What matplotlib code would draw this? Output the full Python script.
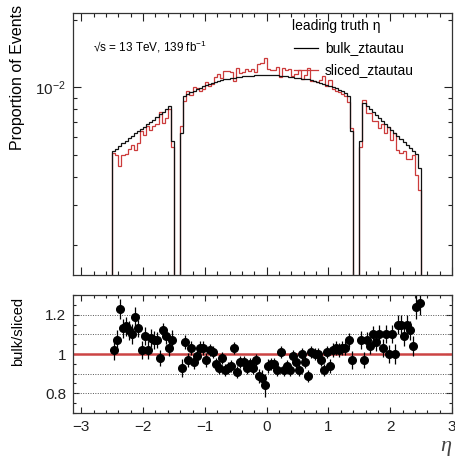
import numpy as np
import matplotlib
matplotlib.use('Agg')
import matplotlib.pyplot as plt
from matplotlib.ticker import (MultipleLocator, LogLocator, NullFormatter,
                               FixedLocator, FuncFormatter)

plt.rcParams['font.family'] = ['Liberation Sans', 'DejaVu Sans']
plt.rcParams['mathtext.default'] = 'regular'

# binning: 0.05 wide bins from -2.5 to 2.5, crack bins empty
bin_lo, bin_hi, bin_w = -2.5, 2.5, 0.05

# bulk_ztautau proportion (x 1e-3), three eta regions
bulk_left = [5.2, 5.35, 5.5, 5.65, 5.8, 5.95, 6.1, 6.25, 6.4, 6.55,
             6.7, 6.85, 7.0, 7.2, 7.4, 7.6, 7.8, 8.0, 8.3, 5.8]
bulk_center = [6.3,
               9.2, 9.35, 9.5, 9.65, 9.8, 9.95, 10.1, 10.25, 10.4, 10.5,
               10.6, 10.7, 10.8, 10.9, 10.95, 11.0, 11.05, 11.1, 11.15, 11.2,
               11.22, 11.25, 11.28, 11.3, 11.32, 11.35, 11.35,
               11.35, 11.35, 11.32, 11.3, 11.28, 11.25, 11.2, 11.15, 11.1, 11.05,
               11.0, 10.95, 10.9, 10.85, 10.75, 10.65, 10.55, 10.45, 10.35, 10.25,
               10.1, 10.0, 9.9, 9.75, 9.6, 9.45, 9.2,
               6.4]
bulk_right = [5.8, 8.49, 8.26, 8.0, 7.77, 7.53, 7.30, 7.08, 6.87, 6.66,
              6.46, 6.27, 6.08, 5.89, 5.71, 5.54, 5.38, 5.21, 5.05, 4.4]

# ratio bulk/sliced and its errors
ratio_left = [1.02, 1.07, 1.23, 1.13, 1.14, 1.12, 1.10, 1.19, 1.13, 1.02,
              1.09, 1.02, 1.08, 1.07, 1.07, 0.98, 1.12, 1.09, 1.03, 1.07]
ratio_center = [0.93, 1.06, 0.97, 1.03, 0.96, 0.99, 1.03, 1.03,
                0.97, 1.02, 1.01, 0.95, 0.93, 0.98, 0.92, 0.93, 0.94, 1.03,
                0.91, 0.96, 0.96, 0.93, 0.95, 0.93, 0.97, 0.89, 0.88, 0.84,
                0.94, 0.95, 0.95, 0.92, 1.01, 0.92, 0.94, 0.92, 0.99, 0.96,
                0.92, 1.00, 0.96, 0.89, 1.01, 1.00, 1.00, 0.97, 0.92, 1.01,
                0.94, 1.02, 1.03, 1.02, 1.03, 1.03, 1.07, 0.97]
ratio_right = [1.07, 0.97, 1.07, 1.04, 1.10, 1.06, 1.10, 1.03, 1.10, 1.00,
               1.10, 1.00, 1.15, 1.15, 1.09, 1.15, 1.12, 1.04, 1.24, 1.26]

err_left = [0.05, 0.05, 0.05, 0.05, 0.05, 0.05, 0.05, 0.05, 0.045, 0.045,
            0.045, 0.045, 0.045, 0.045, 0.04, 0.04, 0.04, 0.04, 0.04, 0.05]
err_center = [0.045, 0.035, 0.035, 0.035, 0.035, 0.035, 0.035, 0.035,
              0.035, 0.03, 0.03, 0.03, 0.03, 0.03, 0.03, 0.03, 0.03, 0.03,
              0.03, 0.03, 0.03, 0.03, 0.03, 0.03, 0.03, 0.035, 0.04, 0.06,
              0.035, 0.03, 0.03, 0.03, 0.03, 0.03, 0.03, 0.03, 0.03, 0.03,
              0.03, 0.03, 0.03, 0.03, 0.03, 0.03, 0.03, 0.03, 0.03, 0.03,
              0.035, 0.035, 0.035, 0.035, 0.035, 0.035, 0.035, 0.045]
err_right = [0.045, 0.04, 0.04, 0.04, 0.04, 0.045, 0.045, 0.045, 0.045, 0.045,
             0.045, 0.05, 0.05, 0.05, 0.05, 0.05, 0.05, 0.05, 0.06, 0.06]

crack = [np.nan, np.nan]

edges = np.round(np.arange(bin_lo, bin_hi + bin_w / 2, bin_w), 3)
centers = 0.5 * (edges[:-1] + edges[1:])

bulk = np.array(bulk_left + crack + bulk_center + crack + bulk_right) * 1e-3
ratio = np.array(ratio_left + crack + ratio_center + crack + ratio_right)
rerr = np.array(err_left + crack + err_center + crack + err_right)
sliced = bulk / ratio

ymin, ymax = 1.47e-3, 2.14e-2
floor = 1e-6

W, H = 456, 459
fig = plt.figure(figsize=(W / 100, H / 100), dpi=100)
ax1 = fig.add_axes([73 / W, 1 - 275 / H, 379 / W, 262 / H])
ax2 = fig.add_axes([73 / W, 1 - 413 / H, 379 / W, 118 / H], sharex=ax1)

red = '#cc3b3b'
# sliced first, bulk on top (edges drawn dark as in ROOT)
ax1.stairs(np.nan_to_num(sliced, nan=floor), edges, baseline=floor, color=red, lw=0.9)
ax1.stairs(np.nan_to_num(bulk, nan=floor), edges, baseline=floor, color='#111111', lw=0.9)
ax1.set_yscale('log')
ax1.set_ylim(ymin, ymax)
ax1.set_xlim(-3.135, 3.0)

ax1.yaxis.set_major_locator(LogLocator(base=10, numticks=10))
ax1.yaxis.set_minor_locator(LogLocator(base=10, subs=np.arange(2, 10), numticks=20))
ax1.yaxis.set_minor_formatter(NullFormatter())
ax1.xaxis.set_major_locator(MultipleLocator(1))
ax1.xaxis.set_minor_locator(MultipleLocator(0.2))

for ax in (ax1, ax2):
    ax.tick_params(which='both', direction='in', top=True, right=True,
                   labelsize=11, colors='#222222', pad=5)
    ax.tick_params(which='major', length=6, width=0.8)
    ax.tick_params(which='minor', length=3, width=0.8)
    for s in ax.spines.values():
        s.set_linewidth(0.9)
        s.set_color('#333333')
ax2.tick_params(which='major', length=4)
ax2.tick_params(which='minor', length=2.2)
ax1.tick_params(axis='x', labelbottom=False)

# legend and labels
tr = ax1.transAxes
ax1.text(0.578, 0.950, 'leading truth η', transform=tr, fontsize=10,
         va='center', ha='left')
ax1.plot([0.583, 0.646], [0.866, 0.866], transform=tr, color='k', lw=0.9)
ax1.text(0.665, 0.866, 'bulk_ztautau', transform=tr, fontsize=10, va='center')
ax1.plot([0.583, 0.646], [0.782, 0.782], transform=tr, color=red, lw=0.9)
ax1.text(0.665, 0.782, 'sliced_ztautau', transform=tr, fontsize=10, va='center')
ax1.text(0.053, 0.870, '√s = 13 TeV, 139 fb$^{-1}$', transform=tr,
         fontsize=8.5, va='center')

fig.text(18 / W, 1 - 77 / H, 'Proportion of Events', rotation=90,
         fontsize=11.5, ha='center', va='center')

# ratio panel
for g in (0.8, 0.9, 1.1, 1.2):
    ax2.axhline(g, color='#555555', lw=0.7, ls=(0, (1, 1.5)))
ax2.axhline(1.0, color='#cc4444', lw=1.8)
ax2.errorbar(centers, ratio, yerr=rerr, fmt='o', color='k', ms=5.5,
             elinewidth=0.9, capsize=0)
ax2.set_ylim(0.7, 1.3)
ax2.yaxis.set_major_locator(FixedLocator([0.8, 1.0, 1.2]))
ax2.yaxis.set_major_formatter(FuncFormatter(lambda v, p: '%g' % v))
ax2.yaxis.set_minor_locator(MultipleLocator(0.05))
ax2.xaxis.set_major_formatter(FuncFormatter(lambda v, p: ('%g' % v).replace('-', '\u2212')))

fig.text(18 / W, 1 - 331 / H, 'bulk/sliced', rotation=90,
         fontsize=10.5, ha='center', va='center')
fig.text(446 / W, 1 - 446 / H, 'η', fontsize=16, ha='center', va='center',
         family=['Liberation Serif', 'DejaVu Serif'], style='italic',
         color='#444444')

fig.savefig('out.png', dpi=100)
